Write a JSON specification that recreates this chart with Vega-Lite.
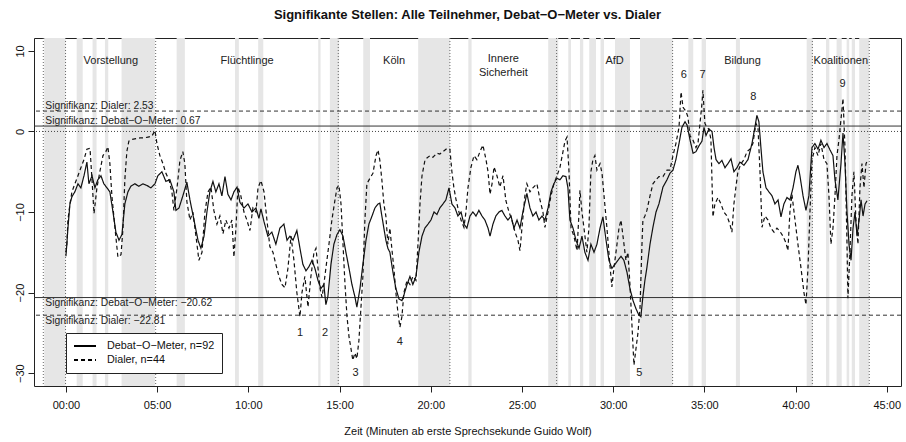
{
"$schema":"https://vega.github.io/schema/vega-lite/v6.json",
"width":867,"height":348,
"autosize":{"type":"none"},
"padding":{"left":34,"top":38,"right":5,"bottom":56},
"background":"white",
"title":{"text":"Signifikante Stellen: Alle Teilnehmer, Debat−O−Meter vs. Dialer","font":"Liberation Sans","fontSize":13,"fontWeight":"bold","color":"#111","anchor":"middle","offset":16},
"config":{
"font":"Liberation Sans",
"view":{"stroke":"#222","strokeWidth":1},
"axis":{"domain":false,"grid":false,"tickColor":"#222","tickSize":6,"tickWidth":1,"labelColor":"#111","labelFont":"Liberation Sans","labelFontSize":11,"titleFont":"Liberation Sans","titleFontSize":11,"titleFontWeight":"normal","titleColor":"#111"}
},
"datasets":{
"bands":[{"a":-1.19,"b":-0.02},{"a":0.59,"b":0.92},{"a":1.46,"b":1.68},{"a":2.14,"b":2.32},{"a":3.05,"b":4.88},{"a":6.07,"b":6.52},{"a":9.27,"b":9.48},{"a":10.54,"b":10.82},{"a":13.83,"b":13.96},{"a":14.47,"b":14.98},{"a":16.3,"b":16.67},{"a":19.31,"b":21.05},{"a":22.06,"b":22.24},{"a":26.44,"b":26.99},{"a":27.54,"b":27.69},{"a":28.18,"b":28.36},{"a":28.69,"b":29.06},{"a":29.31,"b":29.5},{"a":30.1,"b":30.92},{"a":31.47,"b":33.26},{"a":34.12,"b":34.39},{"a":34.85,"b":35.09},{"a":36.73,"b":36.95},{"a":40.61,"b":40.94},{"a":41.67,"b":41.85},{"a":42.25,"b":42.53},{"a":42.8,"b":42.94},{"a":43.08,"b":43.26},{"a":43.49,"b":44.04}],
"vlines":[{"t":-1.24},{"t":-0.02},{"t":4.92},{"t":14.93},{"t":21.05},{"t":26.9},{"t":33.26},{"t":40.92},{"t":44.04}],
"thr":[{"v":2.53,"s":"Dialer","label":"Signifikanz: Dialer: 2.53"},{"v":0.67,"s":"Debat","label":"Signifikanz: Debat−O−Meter: 0.67"},{"v":-20.62,"s":"Debat","label":"Signifikanz: Debat−O−Meter: −20.62"},{"v":-22.81,"s":"Dialer","label":"Signifikanz: Dialer: −22.81"}],
"sections":[{"label":"Vorstellung","t":2.46,"v":8.76},{"label":"Flüchtlinge","t":9.93,"v":8.76},{"label":"Köln","t":17.99,"v":8.76},{"label":"Innere","t":23.98,"v":8.97},{"label":"Sicherheit","t":23.98,"v":7.29},{"label":"AfD","t":30.08,"v":8.76},{"label":"Bildung","t":37.09,"v":8.76},{"label":"Koalitionen","t":42.48,"v":8.76}],
"nums":[{"label":"1","t":12.83,"v":-24.97},{"label":"2","t":14.2,"v":-24.97},{"label":"3","t":15.88,"v":-29.99},{"label":"4","t":18.31,"v":-26.14},{"label":"5","t":31.43,"v":-29.99},{"label":"6","t":33.88,"v":6.98},{"label":"7","t":34.9,"v":6.98},{"label":"8","t":37.68,"v":4.29},{"label":"9","t":42.58,"v":5.95}],
"series":[
{"s":"Debat−O−Meter","t":0,"v":-15.5},{"s":"Debat−O−Meter","t":0.05,"v":-14},{"s":"Debat−O−Meter","t":0.11,"v":-12},{"s":"Debat−O−Meter","t":0.22,"v":-9},{"s":"Debat−O−Meter","t":0.33,"v":-8.1},{"s":"Debat−O−Meter","t":0.49,"v":-7.5},{"s":"Debat−O−Meter","t":0.66,"v":-6.5},{"s":"Debat−O−Meter","t":0.82,"v":-7},{"s":"Debat−O−Meter","t":0.99,"v":-5.5},{"s":"Debat−O−Meter","t":1.15,"v":-3.8},{"s":"Debat−O−Meter","t":1.26,"v":-6.5},{"s":"Debat−O−Meter","t":1.43,"v":-5.5},{"s":"Debat−O−Meter","t":1.59,"v":-7},{"s":"Debat−O−Meter","t":1.75,"v":-6},{"s":"Debat−O−Meter","t":1.92,"v":-5.5},{"s":"Debat−O−Meter","t":2.08,"v":-6.5},{"s":"Debat−O−Meter","t":2.25,"v":-7},{"s":"Debat−O−Meter","t":2.41,"v":-7.5},{"s":"Debat−O−Meter","t":2.58,"v":-10},{"s":"Debat−O−Meter","t":2.74,"v":-12.5},{"s":"Debat−O−Meter","t":2.91,"v":-13.5},{"s":"Debat−O−Meter","t":3.07,"v":-12.8},{"s":"Debat−O−Meter","t":3.23,"v":-9},{"s":"Debat−O−Meter","t":3.4,"v":-7.5},{"s":"Debat−O−Meter","t":3.56,"v":-6.8},{"s":"Debat−O−Meter","t":3.78,"v":-6.5},{"s":"Debat−O−Meter","t":4.0,"v":-6.8},{"s":"Debat−O−Meter","t":4.22,"v":-6.5},{"s":"Debat−O−Meter","t":4.44,"v":-6.7},{"s":"Debat−O−Meter","t":4.66,"v":-7},{"s":"Debat−O−Meter","t":4.88,"v":-6.5},{"s":"Debat−O−Meter","t":5.04,"v":-5.5},{"s":"Debat−O−Meter","t":5.26,"v":-5},{"s":"Debat−O−Meter","t":5.48,"v":-6.2},{"s":"Debat−O−Meter","t":5.7,"v":-6},{"s":"Debat−O−Meter","t":5.92,"v":-7.5},{"s":"Debat−O−Meter","t":6.03,"v":-9.8},{"s":"Debat−O−Meter","t":6.2,"v":-9.5},{"s":"Debat−O−Meter","t":6.41,"v":-8},{"s":"Debat−O−Meter","t":6.63,"v":-6.3},{"s":"Debat−O−Meter","t":6.8,"v":-8.5},{"s":"Debat−O−Meter","t":7.02,"v":-11},{"s":"Debat−O−Meter","t":7.24,"v":-13.5},{"s":"Debat−O−Meter","t":7.4,"v":-14.5},{"s":"Debat−O−Meter","t":7.57,"v":-13},{"s":"Debat−O−Meter","t":7.73,"v":-10},{"s":"Debat−O−Meter","t":7.89,"v":-7.5},{"s":"Debat−O−Meter","t":8.06,"v":-6.2},{"s":"Debat−O−Meter","t":8.22,"v":-7.5},{"s":"Debat−O−Meter","t":8.39,"v":-6.5},{"s":"Debat−O−Meter","t":8.55,"v":-8},{"s":"Debat−O−Meter","t":8.72,"v":-5.6},{"s":"Debat−O−Meter","t":8.88,"v":-7.8},{"s":"Debat−O−Meter","t":9.05,"v":-8.5},{"s":"Debat−O−Meter","t":9.21,"v":-7.5},{"s":"Debat−O−Meter","t":9.38,"v":-6.9},{"s":"Debat−O−Meter","t":9.54,"v":-8.8},{"s":"Debat−O−Meter","t":9.76,"v":-9.5},{"s":"Debat−O−Meter","t":9.98,"v":-9},{"s":"Debat−O−Meter","t":10.2,"v":-10},{"s":"Debat−O−Meter","t":10.42,"v":-9.5},{"s":"Debat−O−Meter","t":10.58,"v":-10.8},{"s":"Debat−O−Meter","t":10.69,"v":-9.6},{"s":"Debat−O−Meter","t":10.86,"v":-11.2},{"s":"Debat−O−Meter","t":11.07,"v":-13},{"s":"Debat−O−Meter","t":11.29,"v":-12.5},{"s":"Debat−O−Meter","t":11.51,"v":-14},{"s":"Debat−O−Meter","t":11.73,"v":-12},{"s":"Debat−O−Meter","t":11.95,"v":-11.5},{"s":"Debat−O−Meter","t":12.12,"v":-13.5},{"s":"Debat−O−Meter","t":12.28,"v":-13},{"s":"Debat−O−Meter","t":12.45,"v":-13.5},{"s":"Debat−O−Meter","t":12.66,"v":-12.3},{"s":"Debat−O−Meter","t":12.83,"v":-14.5},{"s":"Debat−O−Meter","t":12.99,"v":-16.5},{"s":"Debat−O−Meter","t":13.16,"v":-17.3},{"s":"Debat−O−Meter","t":13.32,"v":-16.8},{"s":"Debat−O−Meter","t":13.49,"v":-16},{"s":"Debat−O−Meter","t":13.65,"v":-17},{"s":"Debat−O−Meter","t":13.82,"v":-18.5},{"s":"Debat−O−Meter","t":13.98,"v":-19.5},{"s":"Debat−O−Meter","t":14.14,"v":-19},{"s":"Debat−O−Meter","t":14.25,"v":-21.5},{"s":"Debat−O−Meter","t":14.36,"v":-20.5},{"s":"Debat−O−Meter","t":14.53,"v":-16.5},{"s":"Debat−O−Meter","t":14.69,"v":-14},{"s":"Debat−O−Meter","t":14.86,"v":-12.8},{"s":"Debat−O−Meter","t":15.02,"v":-12.2},{"s":"Debat−O−Meter","t":15.19,"v":-13},{"s":"Debat−O−Meter","t":15.35,"v":-15},{"s":"Debat−O−Meter","t":15.52,"v":-17},{"s":"Debat−O−Meter","t":15.68,"v":-19},{"s":"Debat−O−Meter","t":15.84,"v":-20.5},{"s":"Debat−O−Meter","t":15.95,"v":-21.8},{"s":"Debat−O−Meter","t":16.12,"v":-19.5},{"s":"Debat−O−Meter","t":16.28,"v":-16.5},{"s":"Debat−O−Meter","t":16.45,"v":-13.5},{"s":"Debat−O−Meter","t":16.61,"v":-11.5},{"s":"Debat−O−Meter","t":16.78,"v":-10.5},{"s":"Debat−O−Meter","t":16.94,"v":-9.5},{"s":"Debat−O−Meter","t":17.11,"v":-9},{"s":"Debat−O−Meter","t":17.21,"v":-8.9},{"s":"Debat−O−Meter","t":17.32,"v":-10.5},{"s":"Debat−O−Meter","t":17.43,"v":-12},{"s":"Debat−O−Meter","t":17.54,"v":-13.5},{"s":"Debat−O−Meter","t":17.65,"v":-14.5},{"s":"Debat−O−Meter","t":17.76,"v":-15},{"s":"Debat−O−Meter","t":17.93,"v":-17.5},{"s":"Debat−O−Meter","t":18.09,"v":-19.5},{"s":"Debat−O−Meter","t":18.26,"v":-20.8},{"s":"Debat−O−Meter","t":18.42,"v":-21},{"s":"Debat−O−Meter","t":18.53,"v":-20.3},{"s":"Debat−O−Meter","t":18.7,"v":-19},{"s":"Debat−O−Meter","t":18.86,"v":-18},{"s":"Debat−O−Meter","t":19.02,"v":-19},{"s":"Debat−O−Meter","t":19.19,"v":-18},{"s":"Debat−O−Meter","t":19.35,"v":-15},{"s":"Debat−O−Meter","t":19.52,"v":-13},{"s":"Debat−O−Meter","t":19.68,"v":-12},{"s":"Debat−O−Meter","t":19.85,"v":-11.5},{"s":"Debat−O−Meter","t":20.01,"v":-11},{"s":"Debat−O−Meter","t":20.18,"v":-10},{"s":"Debat−O−Meter","t":20.34,"v":-10.3},{"s":"Debat−O−Meter","t":20.5,"v":-9.5},{"s":"Debat−O−Meter","t":20.67,"v":-9},{"s":"Debat−O−Meter","t":20.83,"v":-8.5},{"s":"Debat−O−Meter","t":21.0,"v":-7},{"s":"Debat−O−Meter","t":21.16,"v":-9},{"s":"Debat−O−Meter","t":21.33,"v":-9.5},{"s":"Debat−O−Meter","t":21.49,"v":-10.5},{"s":"Debat−O−Meter","t":21.66,"v":-10},{"s":"Debat−O−Meter","t":21.82,"v":-11.5},{"s":"Debat−O−Meter","t":21.98,"v":-12},{"s":"Debat−O−Meter","t":22.15,"v":-10.5},{"s":"Debat−O−Meter","t":22.31,"v":-10},{"s":"Debat−O−Meter","t":22.48,"v":-10.5},{"s":"Debat−O−Meter","t":22.64,"v":-9.8},{"s":"Debat−O−Meter","t":22.81,"v":-10.5},{"s":"Debat−O−Meter","t":22.97,"v":-11},{"s":"Debat−O−Meter","t":23.14,"v":-12},{"s":"Debat−O−Meter","t":23.25,"v":-13},{"s":"Debat−O−Meter","t":23.41,"v":-11.5},{"s":"Debat−O−Meter","t":23.57,"v":-10.5},{"s":"Debat−O−Meter","t":23.74,"v":-10},{"s":"Debat−O−Meter","t":23.9,"v":-9.8},{"s":"Debat−O−Meter","t":24.07,"v":-10.5},{"s":"Debat−O−Meter","t":24.23,"v":-11},{"s":"Debat−O−Meter","t":24.4,"v":-10.5},{"s":"Debat−O−Meter","t":24.56,"v":-12},{"s":"Debat−O−Meter","t":24.73,"v":-11},{"s":"Debat−O−Meter","t":24.89,"v":-12},{"s":"Debat−O−Meter","t":25.05,"v":-10},{"s":"Debat−O−Meter","t":25.27,"v":-7.7},{"s":"Debat−O−Meter","t":25.44,"v":-9.5},{"s":"Debat−O−Meter","t":25.6,"v":-10.5},{"s":"Debat−O−Meter","t":25.77,"v":-10},{"s":"Debat−O−Meter","t":25.93,"v":-11},{"s":"Debat−O−Meter","t":26.1,"v":-10.5},{"s":"Debat−O−Meter","t":26.26,"v":-11},{"s":"Debat−O−Meter","t":26.43,"v":-9.5},{"s":"Debat−O−Meter","t":26.59,"v":-7.5},{"s":"Debat−O−Meter","t":26.75,"v":-6.5},{"s":"Debat−O−Meter","t":26.92,"v":-5.8},{"s":"Debat−O−Meter","t":27.08,"v":-6},{"s":"Debat−O−Meter","t":27.25,"v":-5.5},{"s":"Debat−O−Meter","t":27.41,"v":-5.6},{"s":"Debat−O−Meter","t":27.52,"v":-7},{"s":"Debat−O−Meter","t":27.63,"v":-11},{"s":"Debat−O−Meter","t":27.8,"v":-12},{"s":"Debat−O−Meter","t":27.96,"v":-13.5},{"s":"Debat−O−Meter","t":28.13,"v":-14.5},{"s":"Debat−O−Meter","t":28.29,"v":-13},{"s":"Debat−O−Meter","t":28.45,"v":-15},{"s":"Debat−O−Meter","t":28.62,"v":-16},{"s":"Debat−O−Meter","t":28.78,"v":-14},{"s":"Debat−O−Meter","t":28.95,"v":-15},{"s":"Debat−O−Meter","t":29.11,"v":-14},{"s":"Debat−O−Meter","t":29.28,"v":-12},{"s":"Debat−O−Meter","t":29.44,"v":-10.6},{"s":"Debat−O−Meter","t":29.61,"v":-13.5},{"s":"Debat−O−Meter","t":29.77,"v":-16},{"s":"Debat−O−Meter","t":29.93,"v":-17},{"s":"Debat−O−Meter","t":30.1,"v":-16.5},{"s":"Debat−O−Meter","t":30.26,"v":-16},{"s":"Debat−O−Meter","t":30.43,"v":-15.5},{"s":"Debat−O−Meter","t":30.59,"v":-16},{"s":"Debat−O−Meter","t":30.76,"v":-17.5},{"s":"Debat−O−Meter","t":30.92,"v":-19.5},{"s":"Debat−O−Meter","t":31.09,"v":-21},{"s":"Debat−O−Meter","t":31.25,"v":-22},{"s":"Debat−O−Meter","t":31.41,"v":-22.8},{"s":"Debat−O−Meter","t":31.52,"v":-23},{"s":"Debat−O−Meter","t":31.63,"v":-20.5},{"s":"Debat−O−Meter","t":31.74,"v":-18.5},{"s":"Debat−O−Meter","t":31.85,"v":-16.9},{"s":"Debat−O−Meter","t":32.02,"v":-14},{"s":"Debat−O−Meter","t":32.18,"v":-11.9},{"s":"Debat−O−Meter","t":32.35,"v":-10},{"s":"Debat−O−Meter","t":32.51,"v":-9},{"s":"Debat−O−Meter","t":32.73,"v":-6.9},{"s":"Debat−O−Meter","t":32.95,"v":-6},{"s":"Debat−O−Meter","t":33.11,"v":-5.2},{"s":"Debat−O−Meter","t":33.28,"v":-4.8},{"s":"Debat−O−Meter","t":33.44,"v":-3.5},{"s":"Debat−O−Meter","t":33.61,"v":-1.5},{"s":"Debat−O−Meter","t":33.77,"v":0.5},{"s":"Debat−O−Meter","t":33.94,"v":1.2},{"s":"Debat−O−Meter","t":34.05,"v":0.8},{"s":"Debat−O−Meter","t":34.21,"v":-1},{"s":"Debat−O−Meter","t":34.38,"v":-2.7},{"s":"Debat−O−Meter","t":34.54,"v":-2.5},{"s":"Debat−O−Meter","t":34.7,"v":-1.8},{"s":"Debat−O−Meter","t":34.87,"v":-1.2},{"s":"Debat−O−Meter","t":34.98,"v":0.5},{"s":"Debat−O−Meter","t":35.09,"v":-0.5},{"s":"Debat−O−Meter","t":35.25,"v":0.3},{"s":"Debat−O−Meter","t":35.42,"v":0},{"s":"Debat−O−Meter","t":35.53,"v":-2},{"s":"Debat−O−Meter","t":35.64,"v":-3.5},{"s":"Debat−O−Meter","t":35.8,"v":-4},{"s":"Debat−O−Meter","t":35.96,"v":-3.6},{"s":"Debat−O−Meter","t":36.13,"v":-4.5},{"s":"Debat−O−Meter","t":36.29,"v":-4},{"s":"Debat−O−Meter","t":36.46,"v":-3.4},{"s":"Debat−O−Meter","t":36.62,"v":-5},{"s":"Debat−O−Meter","t":36.79,"v":-4.5},{"s":"Debat−O−Meter","t":36.95,"v":-3.8},{"s":"Debat−O−Meter","t":37.17,"v":-4.2},{"s":"Debat−O−Meter","t":37.39,"v":-3.5},{"s":"Debat−O−Meter","t":37.61,"v":-1.5},{"s":"Debat−O−Meter","t":37.77,"v":0.5},{"s":"Debat−O−Meter","t":37.88,"v":2},{"s":"Debat−O−Meter","t":37.99,"v":1.2},{"s":"Debat−O−Meter","t":38.1,"v":-2},{"s":"Debat−O−Meter","t":38.21,"v":-5},{"s":"Debat−O−Meter","t":38.38,"v":-7},{"s":"Debat−O−Meter","t":38.54,"v":-7.5},{"s":"Debat−O−Meter","t":38.71,"v":-8},{"s":"Debat−O−Meter","t":38.87,"v":-9},{"s":"Debat−O−Meter","t":39.04,"v":-8.5},{"s":"Debat−O−Meter","t":39.2,"v":-10.6},{"s":"Debat−O−Meter","t":39.36,"v":-9},{"s":"Debat−O−Meter","t":39.53,"v":-8.2},{"s":"Debat−O−Meter","t":39.69,"v":-8.5},{"s":"Debat−O−Meter","t":39.86,"v":-7},{"s":"Debat−O−Meter","t":40.02,"v":-5},{"s":"Debat−O−Meter","t":40.13,"v":-4.2},{"s":"Debat−O−Meter","t":40.24,"v":-5.5},{"s":"Debat−O−Meter","t":40.41,"v":-8},{"s":"Debat−O−Meter","t":40.57,"v":-9.8},{"s":"Debat−O−Meter","t":40.73,"v":-8},{"s":"Debat−O−Meter","t":40.9,"v":-2},{"s":"Debat−O−Meter","t":41.06,"v":-1.5},{"s":"Debat−O−Meter","t":41.23,"v":-2.2},{"s":"Debat−O−Meter","t":41.39,"v":-1.1},{"s":"Debat−O−Meter","t":41.56,"v":-2},{"s":"Debat−O−Meter","t":41.72,"v":-1.5},{"s":"Debat−O−Meter","t":41.89,"v":-2.3},{"s":"Debat−O−Meter","t":42.05,"v":-3},{"s":"Debat−O−Meter","t":42.16,"v":-6},{"s":"Debat−O−Meter","t":42.32,"v":-8.5},{"s":"Debat−O−Meter","t":42.49,"v":-4},{"s":"Debat−O−Meter","t":42.6,"v":-0.2},{"s":"Debat−O−Meter","t":42.71,"v":-4},{"s":"Debat−O−Meter","t":42.82,"v":-10},{"s":"Debat−O−Meter","t":42.93,"v":-14},{"s":"Debat−O−Meter","t":43.04,"v":-16},{"s":"Debat−O−Meter","t":43.15,"v":-12},{"s":"Debat−O−Meter","t":43.26,"v":-10},{"s":"Debat−O−Meter","t":43.37,"v":-13},{"s":"Debat−O−Meter","t":43.48,"v":-11},{"s":"Debat−O−Meter","t":43.59,"v":-8.5},{"s":"Debat−O−Meter","t":43.7,"v":-10.5},{"s":"Debat−O−Meter","t":43.81,"v":-9},{"s":"Debat−O−Meter","t":43.92,"v":-8.6},
{"s":"Dialer","t":0,"v":-15},{"s":"Dialer","t":0.05,"v":-14},{"s":"Dialer","t":0.11,"v":-11},{"s":"Dialer","t":0.22,"v":-9},{"s":"Dialer","t":0.33,"v":-7.5},{"s":"Dialer","t":0.49,"v":-6.5},{"s":"Dialer","t":0.66,"v":-5.5},{"s":"Dialer","t":0.82,"v":-4.5},{"s":"Dialer","t":0.99,"v":-3.5},{"s":"Dialer","t":1.15,"v":-2.2},{"s":"Dialer","t":1.32,"v":-2.1},{"s":"Dialer","t":1.43,"v":-6},{"s":"Dialer","t":1.54,"v":-10.2},{"s":"Dialer","t":1.7,"v":-7},{"s":"Dialer","t":1.86,"v":-5},{"s":"Dialer","t":2.03,"v":-3},{"s":"Dialer","t":2.19,"v":-2.5},{"s":"Dialer","t":2.3,"v":-1.9},{"s":"Dialer","t":2.41,"v":-4},{"s":"Dialer","t":2.52,"v":-8},{"s":"Dialer","t":2.69,"v":-12},{"s":"Dialer","t":2.85,"v":-15.6},{"s":"Dialer","t":3.02,"v":-15.3},{"s":"Dialer","t":3.13,"v":-12},{"s":"Dialer","t":3.23,"v":-6},{"s":"Dialer","t":3.34,"v":-2.5},{"s":"Dialer","t":3.45,"v":-1.2},{"s":"Dialer","t":3.62,"v":-1},{"s":"Dialer","t":3.84,"v":-0.9},{"s":"Dialer","t":4.06,"v":-0.8},{"s":"Dialer","t":4.28,"v":-0.8},{"s":"Dialer","t":4.5,"v":-0.7},{"s":"Dialer","t":4.71,"v":-0.6},{"s":"Dialer","t":4.88,"v":0.1},{"s":"Dialer","t":4.99,"v":-1.5},{"s":"Dialer","t":5.15,"v":-3},{"s":"Dialer","t":5.32,"v":-4},{"s":"Dialer","t":5.48,"v":-5.2},{"s":"Dialer","t":5.65,"v":-6},{"s":"Dialer","t":5.81,"v":-7.5},{"s":"Dialer","t":5.92,"v":-9.8},{"s":"Dialer","t":6.09,"v":-7},{"s":"Dialer","t":6.25,"v":-3.6},{"s":"Dialer","t":6.41,"v":-2.5},{"s":"Dialer","t":6.52,"v":-4},{"s":"Dialer","t":6.63,"v":-8.7},{"s":"Dialer","t":6.8,"v":-11},{"s":"Dialer","t":6.96,"v":-10},{"s":"Dialer","t":7.13,"v":-13},{"s":"Dialer","t":7.29,"v":-16},{"s":"Dialer","t":7.46,"v":-15},{"s":"Dialer","t":7.62,"v":-10},{"s":"Dialer","t":7.79,"v":-7.5},{"s":"Dialer","t":7.95,"v":-6.9},{"s":"Dialer","t":8.11,"v":-9.8},{"s":"Dialer","t":8.28,"v":-11.5},{"s":"Dialer","t":8.44,"v":-10.5},{"s":"Dialer","t":8.61,"v":-12.7},{"s":"Dialer","t":8.77,"v":-11},{"s":"Dialer","t":8.94,"v":-12},{"s":"Dialer","t":9.1,"v":-11},{"s":"Dialer","t":9.21,"v":-15.6},{"s":"Dialer","t":9.32,"v":-12},{"s":"Dialer","t":9.43,"v":-6.9},{"s":"Dialer","t":9.59,"v":-8},{"s":"Dialer","t":9.76,"v":-10},{"s":"Dialer","t":9.92,"v":-11},{"s":"Dialer","t":10.09,"v":-12.3},{"s":"Dialer","t":10.25,"v":-9.5},{"s":"Dialer","t":10.42,"v":-10},{"s":"Dialer","t":10.53,"v":-7},{"s":"Dialer","t":10.69,"v":-6.1},{"s":"Dialer","t":10.86,"v":-7.5},{"s":"Dialer","t":11.02,"v":-11},{"s":"Dialer","t":11.18,"v":-14.3},{"s":"Dialer","t":11.35,"v":-15},{"s":"Dialer","t":11.51,"v":-16.5},{"s":"Dialer","t":11.68,"v":-18},{"s":"Dialer","t":11.84,"v":-19},{"s":"Dialer","t":12.01,"v":-19.4},{"s":"Dialer","t":12.17,"v":-17},{"s":"Dialer","t":12.34,"v":-13},{"s":"Dialer","t":12.5,"v":-16},{"s":"Dialer","t":12.66,"v":-20},{"s":"Dialer","t":12.83,"v":-23},{"s":"Dialer","t":12.94,"v":-20},{"s":"Dialer","t":13.1,"v":-18},{"s":"Dialer","t":13.27,"v":-21.8},{"s":"Dialer","t":13.43,"v":-18},{"s":"Dialer","t":13.6,"v":-15},{"s":"Dialer","t":13.71,"v":-14.5},{"s":"Dialer","t":13.82,"v":-17},{"s":"Dialer","t":13.93,"v":-19.5},{"s":"Dialer","t":14.04,"v":-20.6},{"s":"Dialer","t":14.14,"v":-19},{"s":"Dialer","t":14.25,"v":-17},{"s":"Dialer","t":14.42,"v":-14},{"s":"Dialer","t":14.58,"v":-11},{"s":"Dialer","t":14.75,"v":-8.5},{"s":"Dialer","t":14.86,"v":-7},{"s":"Dialer","t":14.97,"v":-6.7},{"s":"Dialer","t":15.08,"v":-9},{"s":"Dialer","t":15.19,"v":-14},{"s":"Dialer","t":15.3,"v":-19},{"s":"Dialer","t":15.41,"v":-23},{"s":"Dialer","t":15.52,"v":-25.5},{"s":"Dialer","t":15.63,"v":-27},{"s":"Dialer","t":15.73,"v":-28.4},{"s":"Dialer","t":15.84,"v":-27.5},{"s":"Dialer","t":15.95,"v":-28.2},{"s":"Dialer","t":16.06,"v":-26},{"s":"Dialer","t":16.17,"v":-22},{"s":"Dialer","t":16.28,"v":-18},{"s":"Dialer","t":16.39,"v":-11},{"s":"Dialer","t":16.5,"v":-6.5},{"s":"Dialer","t":16.67,"v":-5.8},{"s":"Dialer","t":16.83,"v":-5.2},{"s":"Dialer","t":17.0,"v":-3},{"s":"Dialer","t":17.11,"v":-2.3},{"s":"Dialer","t":17.21,"v":-3.6},{"s":"Dialer","t":17.32,"v":-6},{"s":"Dialer","t":17.43,"v":-9},{"s":"Dialer","t":17.54,"v":-10.5},{"s":"Dialer","t":17.65,"v":-14},{"s":"Dialer","t":17.76,"v":-12},{"s":"Dialer","t":17.87,"v":-14.6},{"s":"Dialer","t":17.98,"v":-17},{"s":"Dialer","t":18.09,"v":-20},{"s":"Dialer","t":18.2,"v":-22.5},{"s":"Dialer","t":18.31,"v":-24.3},{"s":"Dialer","t":18.42,"v":-23},{"s":"Dialer","t":18.53,"v":-20},{"s":"Dialer","t":18.7,"v":-18.5},{"s":"Dialer","t":18.86,"v":-19},{"s":"Dialer","t":19.02,"v":-18},{"s":"Dialer","t":19.19,"v":-18.5},{"s":"Dialer","t":19.3,"v":-14},{"s":"Dialer","t":19.41,"v":-9},{"s":"Dialer","t":19.52,"v":-5.5},{"s":"Dialer","t":19.68,"v":-3.6},{"s":"Dialer","t":19.79,"v":-3.3},{"s":"Dialer","t":19.96,"v":-3},{"s":"Dialer","t":20.12,"v":-3.2},{"s":"Dialer","t":20.34,"v":-2.7},{"s":"Dialer","t":20.5,"v":-2.8},{"s":"Dialer","t":20.67,"v":-2.5},{"s":"Dialer","t":20.89,"v":-2.1},{"s":"Dialer","t":21.05,"v":-2.2},{"s":"Dialer","t":21.16,"v":-5},{"s":"Dialer","t":21.27,"v":-7},{"s":"Dialer","t":21.38,"v":-8.4},{"s":"Dialer","t":21.49,"v":-9.5},{"s":"Dialer","t":21.66,"v":-11},{"s":"Dialer","t":21.82,"v":-11.9},{"s":"Dialer","t":21.93,"v":-10},{"s":"Dialer","t":22.04,"v":-7},{"s":"Dialer","t":22.2,"v":-4.5},{"s":"Dialer","t":22.37,"v":-3},{"s":"Dialer","t":22.53,"v":-3.5},{"s":"Dialer","t":22.7,"v":-2.5},{"s":"Dialer","t":22.86,"v":-1.7},{"s":"Dialer","t":23.03,"v":-3.5},{"s":"Dialer","t":23.14,"v":-5},{"s":"Dialer","t":23.25,"v":-7.8},{"s":"Dialer","t":23.36,"v":-6.5},{"s":"Dialer","t":23.47,"v":-4.4},{"s":"Dialer","t":23.63,"v":-5.5},{"s":"Dialer","t":23.79,"v":-6.9},{"s":"Dialer","t":23.96,"v":-5.5},{"s":"Dialer","t":24.12,"v":-8.6},{"s":"Dialer","t":24.29,"v":-10},{"s":"Dialer","t":24.45,"v":-11},{"s":"Dialer","t":24.62,"v":-12.5},{"s":"Dialer","t":24.78,"v":-13.5},{"s":"Dialer","t":24.89,"v":-14.8},{"s":"Dialer","t":25.0,"v":-12},{"s":"Dialer","t":25.16,"v":-8},{"s":"Dialer","t":25.27,"v":-6.5},{"s":"Dialer","t":25.44,"v":-7.5},{"s":"Dialer","t":25.6,"v":-7},{"s":"Dialer","t":25.82,"v":-6.5},{"s":"Dialer","t":25.99,"v":-8.5},{"s":"Dialer","t":26.15,"v":-10},{"s":"Dialer","t":26.26,"v":-11.9},{"s":"Dialer","t":26.43,"v":-10},{"s":"Dialer","t":26.59,"v":-8},{"s":"Dialer","t":26.75,"v":-6.5},{"s":"Dialer","t":26.92,"v":-5.5},{"s":"Dialer","t":27.08,"v":-4.5},{"s":"Dialer","t":27.25,"v":-2.5},{"s":"Dialer","t":27.36,"v":-1.2},{"s":"Dialer","t":27.47,"v":-0.7},{"s":"Dialer","t":27.58,"v":-5},{"s":"Dialer","t":27.69,"v":-12},{"s":"Dialer","t":27.85,"v":-13},{"s":"Dialer","t":28.02,"v":-14.8},{"s":"Dialer","t":28.13,"v":-10},{"s":"Dialer","t":28.18,"v":-7.3},{"s":"Dialer","t":28.29,"v":-10},{"s":"Dialer","t":28.4,"v":-12},{"s":"Dialer","t":28.56,"v":-15},{"s":"Dialer","t":28.67,"v":-12},{"s":"Dialer","t":28.78,"v":-5},{"s":"Dialer","t":28.89,"v":-3.5},{"s":"Dialer","t":29.0,"v":-3},{"s":"Dialer","t":29.11,"v":-4.8},{"s":"Dialer","t":29.28,"v":-4},{"s":"Dialer","t":29.39,"v":-5.2},{"s":"Dialer","t":29.5,"v":-8},{"s":"Dialer","t":29.66,"v":-12},{"s":"Dialer","t":29.82,"v":-16.5},{"s":"Dialer","t":29.93,"v":-19.3},{"s":"Dialer","t":30.04,"v":-17},{"s":"Dialer","t":30.21,"v":-14},{"s":"Dialer","t":30.32,"v":-12},{"s":"Dialer","t":30.43,"v":-11},{"s":"Dialer","t":30.54,"v":-13},{"s":"Dialer","t":30.7,"v":-16},{"s":"Dialer","t":30.81,"v":-15},{"s":"Dialer","t":30.92,"v":-19},{"s":"Dialer","t":31.03,"v":-24},{"s":"Dialer","t":31.14,"v":-29},{"s":"Dialer","t":31.25,"v":-27},{"s":"Dialer","t":31.36,"v":-25},{"s":"Dialer","t":31.47,"v":-22},{"s":"Dialer","t":31.58,"v":-14},{"s":"Dialer","t":31.63,"v":-11},{"s":"Dialer","t":31.74,"v":-10.5},{"s":"Dialer","t":31.85,"v":-9.8},{"s":"Dialer","t":32.02,"v":-8},{"s":"Dialer","t":32.18,"v":-6.5},{"s":"Dialer","t":32.35,"v":-6},{"s":"Dialer","t":32.51,"v":-5.6},{"s":"Dialer","t":32.73,"v":-5.6},{"s":"Dialer","t":32.95,"v":-4.8},{"s":"Dialer","t":33.11,"v":-4.8},{"s":"Dialer","t":33.28,"v":-3},{"s":"Dialer","t":33.44,"v":-1.5},{"s":"Dialer","t":33.61,"v":0.5},{"s":"Dialer","t":33.72,"v":4.9},{"s":"Dialer","t":33.83,"v":3},{"s":"Dialer","t":33.99,"v":2.5},{"s":"Dialer","t":34.1,"v":1.8},{"s":"Dialer","t":34.21,"v":-0.5},{"s":"Dialer","t":34.38,"v":-1.1},{"s":"Dialer","t":34.54,"v":-2},{"s":"Dialer","t":34.65,"v":-1.5},{"s":"Dialer","t":34.76,"v":1},{"s":"Dialer","t":34.87,"v":3.5},{"s":"Dialer","t":34.92,"v":5.1},{"s":"Dialer","t":35.03,"v":1},{"s":"Dialer","t":35.14,"v":0.5},{"s":"Dialer","t":35.25,"v":0.3},{"s":"Dialer","t":35.36,"v":-1},{"s":"Dialer","t":35.47,"v":-10.6},{"s":"Dialer","t":35.58,"v":-9},{"s":"Dialer","t":35.75,"v":-8.2},{"s":"Dialer","t":35.91,"v":-9},{"s":"Dialer","t":36.07,"v":-10},{"s":"Dialer","t":36.24,"v":-10.5},{"s":"Dialer","t":36.4,"v":-11.5},{"s":"Dialer","t":36.51,"v":-12.5},{"s":"Dialer","t":36.62,"v":-9},{"s":"Dialer","t":36.73,"v":-6.9},{"s":"Dialer","t":36.84,"v":-5},{"s":"Dialer","t":37.01,"v":-4},{"s":"Dialer","t":37.17,"v":-3.5},{"s":"Dialer","t":37.34,"v":-2.5},{"s":"Dialer","t":37.5,"v":-2.2},{"s":"Dialer","t":37.66,"v":-1.5},{"s":"Dialer","t":37.83,"v":1},{"s":"Dialer","t":37.94,"v":0.5},{"s":"Dialer","t":38.05,"v":-5},{"s":"Dialer","t":38.16,"v":-11.9},{"s":"Dialer","t":38.32,"v":-10.5},{"s":"Dialer","t":38.49,"v":-11},{"s":"Dialer","t":38.65,"v":-12},{"s":"Dialer","t":38.82,"v":-12.5},{"s":"Dialer","t":38.98,"v":-12},{"s":"Dialer","t":39.14,"v":-12.4},{"s":"Dialer","t":39.31,"v":-13},{"s":"Dialer","t":39.47,"v":-13.8},{"s":"Dialer","t":39.58,"v":-14.8},{"s":"Dialer","t":39.69,"v":-10},{"s":"Dialer","t":39.8,"v":-7.8},{"s":"Dialer","t":39.97,"v":-11},{"s":"Dialer","t":40.13,"v":-14},{"s":"Dialer","t":40.3,"v":-17},{"s":"Dialer","t":40.46,"v":-20},{"s":"Dialer","t":40.57,"v":-21.5},{"s":"Dialer","t":40.68,"v":-17},{"s":"Dialer","t":40.79,"v":-10},{"s":"Dialer","t":40.9,"v":-3.6},{"s":"Dialer","t":41.06,"v":-2},{"s":"Dialer","t":41.23,"v":-3},{"s":"Dialer","t":41.39,"v":-1.5},{"s":"Dialer","t":41.56,"v":-3.5},{"s":"Dialer","t":41.72,"v":-4},{"s":"Dialer","t":41.83,"v":-8},{"s":"Dialer","t":41.94,"v":-14},{"s":"Dialer","t":42.05,"v":-12},{"s":"Dialer","t":42.16,"v":-8},{"s":"Dialer","t":42.27,"v":-3},{"s":"Dialer","t":42.38,"v":-1},{"s":"Dialer","t":42.49,"v":1.5},{"s":"Dialer","t":42.6,"v":4.1},{"s":"Dialer","t":42.71,"v":-2},{"s":"Dialer","t":42.82,"v":-14},{"s":"Dialer","t":42.87,"v":-20.7},{"s":"Dialer","t":42.98,"v":-15},{"s":"Dialer","t":43.09,"v":-8},{"s":"Dialer","t":43.2,"v":-5},{"s":"Dialer","t":43.31,"v":-11},{"s":"Dialer","t":43.42,"v":-14},{"s":"Dialer","t":43.53,"v":-7},{"s":"Dialer","t":43.64,"v":-4},{"s":"Dialer","t":43.75,"v":-7},{"s":"Dialer","t":43.86,"v":-4},{"s":"Dialer","t":43.97,"v":-3.5}
]
},
"layer":[
{"data":{"name":"bands"},"mark":{"type":"rect","color":"#e6e6e6"},
 "encoding":{"x":{"field":"a","type":"quantitative","scale":{"domain":[-1.75,45.78],"nice":false,"zero":false},"title":"Zeit (Minuten ab erste Sprechsekunde Guido Wolf)","axis":{"values":[0,5,10,15,20,25,30,35,40,45],"labelExpr":"(datum.value < 10 ? '0' : '') + datum.value + ':00'","labelPadding":7,"titlePadding":15,"labelFlush":false,"labelOverlap":false}},"x2":{"field":"b"}}},
{"data":{"name":"vlines"},"mark":{"type":"rule","color":"#666","strokeDash":[1,2],"strokeWidth":1},
 "encoding":{"x":{"field":"t","type":"quantitative"}}},
{"data":{"name":"thr"},"transform":[{"filter":"datum.s == 'Debat'"}],"mark":{"type":"rule","color":"#333","strokeWidth":1},
 "encoding":{"y":{"field":"v","type":"quantitative","scale":{"domain":[-31.6,11.6],"nice":false,"zero":false},"title":null,"axis":{"values":[-30,-20,-10,0,10],"labelAngle":270,"labelAlign":"center","labelBaseline":"bottom","labelPadding":3,"labelFlush":false,"labelOverlap":false}}}},
{"data":{"name":"thr"},"transform":[{"filter":"datum.s == 'Dialer'"}],"mark":{"type":"rule","color":"#333","strokeWidth":1,"strokeDash":[4,3]},
 "encoding":{"y":{"field":"v","type":"quantitative"}}},
{"data":{"values":[{"v":0}]},"mark":{"type":"rule","color":"#444","strokeWidth":1,"strokeDash":[1,2]},
 "encoding":{"y":{"field":"v","type":"quantitative"}}},
{"data":{"name":"thr"},"transform":[{"filter":"datum.v > 0"}],"mark":{"type":"text","align":"left","baseline":"middle","dy":-5.5,"fontSize":10.3,"color":"#222"},
 "encoding":{"x":{"datum":-1.13,"type":"quantitative"},"y":{"field":"v","type":"quantitative"},"text":{"field":"label"}}},
{"data":{"name":"thr"},"transform":[{"filter":"datum.v < 0"}],"mark":{"type":"text","align":"left","baseline":"middle","dy":5.5,"fontSize":10.3,"color":"#222"},
 "encoding":{"x":{"datum":-1.13,"type":"quantitative"},"y":{"field":"v","type":"quantitative"},"text":{"field":"label"}}},
{"data":{"name":"series"},"mark":{"type":"line","color":"#111","strokeWidth":1.2},
 "encoding":{"x":{"field":"t","type":"quantitative"},"y":{"field":"v","type":"quantitative"},
  "strokeDash":{"field":"s","type":"nominal","scale":{"domain":["Debat−O−Meter","Dialer"],"range":[[1,0],[4,3]]},
   "legend":{"title":null,"orient":"none","legendX":32,"legendY":295,"direction":"vertical","fillColor":"white","strokeColor":"#222","padding":7,"symbolType":"stroke","symbolSize":484,"symbolStrokeWidth":2,"symbolStrokeColor":"black","labelFontSize":10.8,"labelColor":"#111","labelOffset":10,"rowPadding":2,"clipHeight":12,"labelExpr":"datum.label == 'Dialer' ? 'Dialer, n=44' : 'Debat−O−Meter, n=92'"}}}},
{"data":{"name":"sections"},"mark":{"type":"text","align":"center","baseline":"middle","fontSize":11,"color":"#222"},
 "encoding":{"x":{"field":"t","type":"quantitative"},"y":{"field":"v","type":"quantitative"},"text":{"field":"label"}}},
{"data":{"name":"nums"},"mark":{"type":"text","align":"center","baseline":"middle","fontSize":11,"color":"#222"},
 "encoding":{"x":{"field":"t","type":"quantitative"},"y":{"field":"v","type":"quantitative"},"text":{"field":"label"}}}
]
}
